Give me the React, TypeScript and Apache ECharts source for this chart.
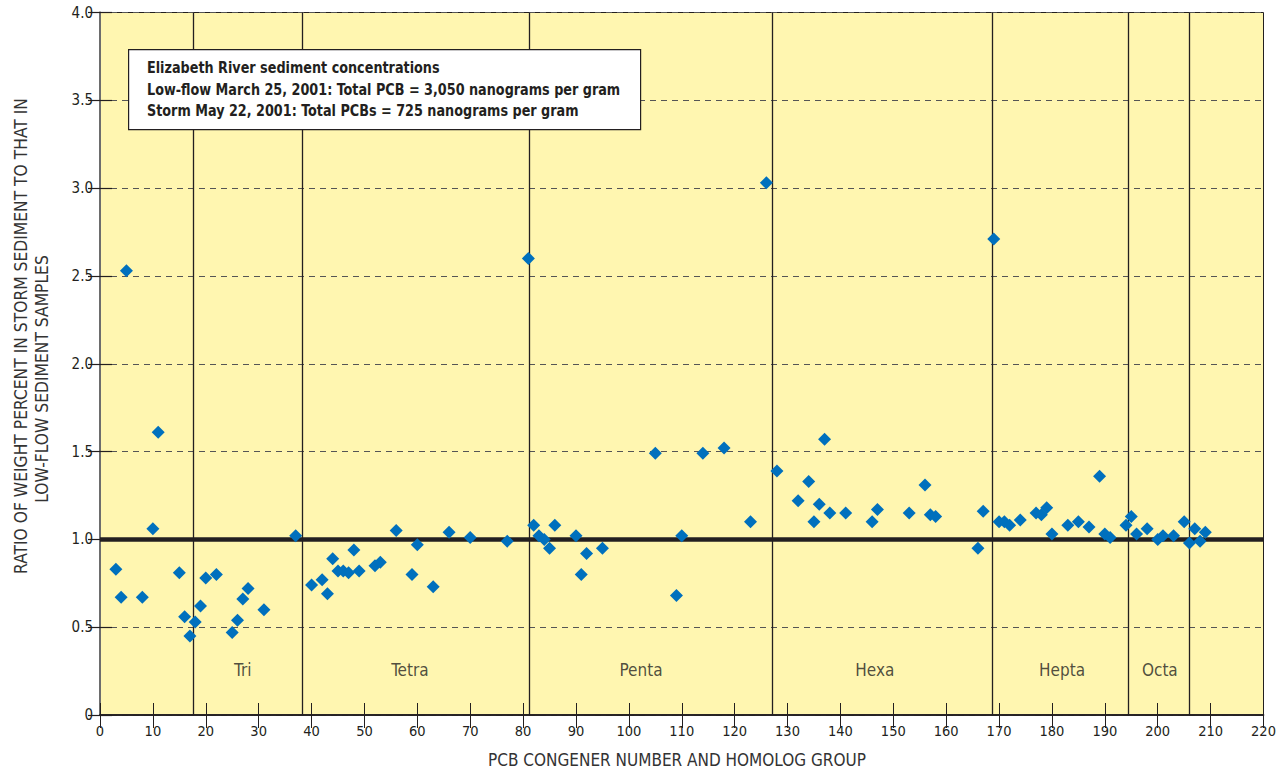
import React, { useEffect, useRef } from "react";
import * as echarts from "echarts";

const congeners = [3,4,5,8,10,11,15,16,17,18,19,20,22,25,26,27,28,31,37,40,42,43,44,45,46,47,48,49,52,53,56,59,60,63,66,70,77,81,82,83,84,85,86,90,91,92,95,105,109,110,114,118,123,126,128,132,134,135,136,137,138,141,146,147,153,156,157,158,166,167,169,170,171,172,174,177,178,179,180,183,185,187,189,190,191,194,195,196,198,200,201,203,205,206,207,208,209];
const ratios = [0.83,0.67,2.53,0.67,1.06,1.61,0.81,0.56,0.45,0.53,0.62,0.78,0.80,0.47,0.54,0.66,0.72,0.60,1.02,0.74,0.77,0.69,0.89,0.82,0.82,0.81,0.94,0.82,0.85,0.87,1.05,0.80,0.97,0.73,1.04,1.01,0.99,2.60,1.08,1.02,1.00,0.95,1.08,1.02,0.80,0.92,0.95,1.49,0.68,1.02,1.49,1.52,1.10,3.03,1.39,1.22,1.33,1.10,1.20,1.57,1.15,1.15,1.10,1.17,1.15,1.31,1.14,1.13,0.95,1.16,2.71,1.10,1.10,1.08,1.11,1.15,1.14,1.18,1.03,1.08,1.10,1.07,1.36,1.03,1.01,1.08,1.13,1.03,1.06,1.00,1.02,1.02,1.10,0.98,1.06,0.99,1.04];

const groupDividers = [17.6, 38.2, 81.1, 127.1, 168.7, 194.4, 206.0];
const groupNames = ["Tri", "Tetra", "Penta", "Hexa", "Hepta", "Octa"];
const groupLabelX = [27.0, 58.6, 102.3, 146.5, 181.9, 200.4];
const groupLabelY = 0.257;
const referenceRatio = 1.0;

const legendLines = [
  "Elizabeth River sediment concentrations",
  "Low-flow March 25, 2001: Total PCB = 3,050 nanograms per gram",
  "Storm May 22, 2001: Total PCBs = 725 nanograms per gram",
];
const yTitleLines = [
  "RATIO OF WEIGHT PERCENT IN STORM SEDIMENT TO THAT IN",
  "LOW-FLOW SEDIMENT SAMPLES",
];
const xTitle = "PCB CONGENER NUMBER AND HOMOLOG GROUP";

const FONT = "'Liberation Sans Narrow', 'DejaVu Sans Condensed', 'Roboto Condensed', sans-serif";
const INK = "#231F20";

export default function App() {
  const ref = useRef<HTMLDivElement>(null);
  useEffect(() => {
    if (!ref.current) return;
    const chart = echarts.init(ref.current, null, { renderer: "svg" });
    const points = congeners.map((c, i) => [c, ratios[i]]);
    const labels = groupNames.map((n, i) => [groupLabelX[i], groupLabelY, n]);
    const option: any = {
      animation: false,
      backgroundColor: "#ffffff",
      grid: {
        left: 100, right: 17.5, top: 12.5, bottom: 57,
        show: true, backgroundColor: "#FFF6B0", borderColor: INK, borderWidth: 1,
      },
      xAxis: [
        {
          type: "value", min: 0, max: 220, interval: 10, position: "bottom",
          axisLine: { show: true, lineStyle: { color: INK, width: 1.5 } },
          axisTick: { show: true, inside: true, length: 12, lineStyle: { color: INK, width: 1 } },
          axisLabel: { color: INK, fontFamily: FONT, fontSize: 14.5, margin: 8 },
          splitLine: { show: false },
        },
        {
          type: "value", min: 0, max: 220, interval: 10, position: "top",
          axisLine: { show: true, lineStyle: { color: INK, width: 1.5 } },
          axisTick: { show: true, inside: true, length: 13, lineStyle: { color: INK, width: 1 } },
          axisLabel: { show: false },
          splitLine: { show: false },
        },
      ],
      yAxis: [
        {
          type: "value", min: 0, max: 4, interval: 0.5, position: "left",
          axisLine: { show: true, lineStyle: { color: INK, width: 1.5 } },
          axisTick: { show: true, inside: true, length: 12, lineStyle: { color: INK, width: 1.2 } },
          axisLabel: {
            color: INK, fontFamily: FONT, fontSize: 15, margin: 7,
            formatter: (v: number) => (v === 0 ? "0" : v.toFixed(1)),
          },
          splitLine: { show: true, lineStyle: { color: "#555555", width: 1, type: [6, 5] } },
        },
        {
          type: "value", min: 0, max: 4, interval: 0.5, position: "right",
          axisLine: { show: true, lineStyle: { color: "#6d6d6d", width: 2 } },
          axisTick: { show: true, inside: true, length: 12, lineStyle: { color: INK, width: 1.2 } },
          axisLabel: { show: false },
          splitLine: { show: false },
        },
      ],
      series: [
        {
          type: "line", data: [], xAxisIndex: 0, yAxisIndex: 0, z: 1, silent: true,
          markLine: {
            silent: true, symbol: "none", label: { show: false }, animation: false,
            data: [
              ...groupDividers.map((x) => ({ xAxis: x, lineStyle: { color: INK, width: 1.3, type: "solid" } })),
              { yAxis: referenceRatio, lineStyle: { color: INK, width: 4.5, type: "solid" } },
            ],
          },
        },
        {
          type: "scatter", data: labels, symbolSize: 0, z: 2, silent: true,
          label: {
            show: true, position: "inside", formatter: (p: any) => p.data[2],
            color: INK, fontFamily: FONT, fontSize: 17,
          },
        },
        {
          type: "scatter", data: points, symbol: "diamond", symbolSize: 13, z: 5,
          itemStyle: { color: "#0070BD", opacity: 1 },
        },
      ],
      graphic: [
        {
          type: "rect", left: 128, top: 49, z: 10,
          shape: { width: 512, height: 80 },
          style: { fill: "#ffffff", stroke: INK, lineWidth: 1.2 },
        },
        ...legendLines.map((t, i) => ({
          type: "text", x: 147, y: 68 + i * 21.5, scaleX: 0.89, z: 11,
          style: { text: t, fill: INK, font: `bold 16px ${FONT}`, textVerticalAlign: "middle" },
        })),
        {
          type: "text", x: 21, y: 336, rotation: Math.PI / 2, z: 11,
          style: { text: yTitleLines[0], fill: "#333333", font: `17.3px ${FONT}`, textAlign: "center", textVerticalAlign: "middle" },
        },
        {
          type: "text", x: 42, y: 379, rotation: Math.PI / 2, z: 11,
          style: { text: yTitleLines[1], fill: "#333333", font: `17.3px ${FONT}`, textAlign: "center", textVerticalAlign: "middle" },
        },
        {
          type: "text", x: 677, y: 760, z: 11,
          style: { text: xTitle, fill: "#333333", font: `17px ${FONT}`, textAlign: "center", textVerticalAlign: "middle" },
        },
      ],
    };
    chart.setOption(option);
    return () => chart.dispose();
  }, []);
  return (
    <div
      ref={ref}
      style={{ position: "fixed", left: 0, top: 0, width: 1281, height: 772, background: "#fff" }}
    />
  );
}
